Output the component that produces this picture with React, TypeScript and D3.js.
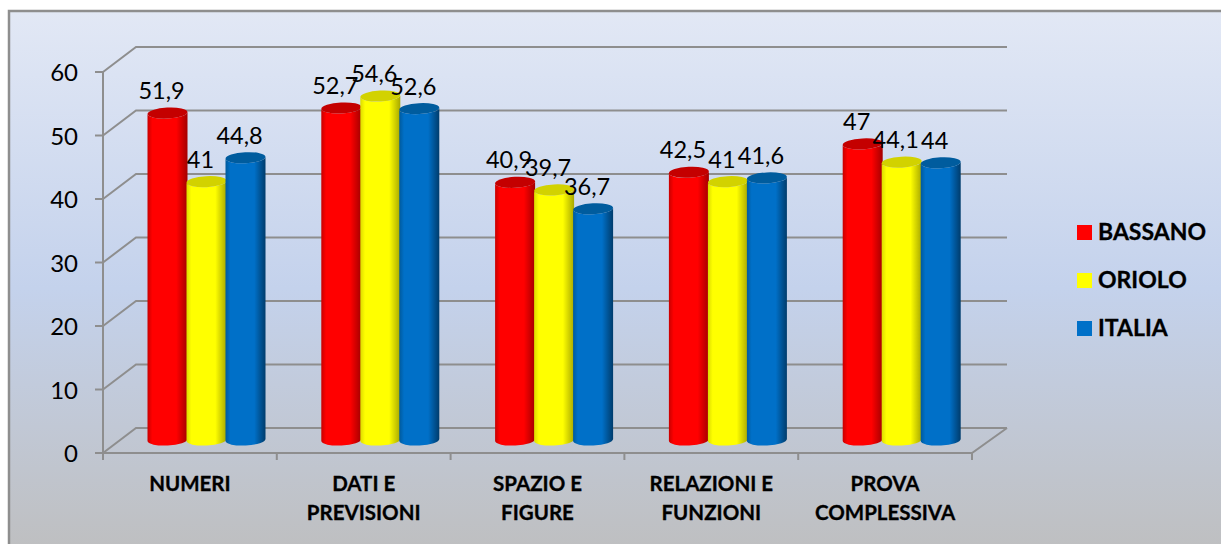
import React from "react";
import * as d3 from "d3";

const categories = [["NUMERI"], ["DATI E", "PREVISIONI"], ["SPAZIO E", "FIGURE"], ["RELAZIONI E", "FUNZIONI"], ["PROVA", "COMPLESSIVA"]];
const categoryKeys = categories.map((c) => c.join(" "));
const seriesNames = ["BASSANO", "ORIOLO", "ITALIA"];
const bassano = [51.9, 52.7, 40.9, 42.5, 47];
const oriolo = [41, 54.6, 39.7, 41, 44.1];
const italia = [44.8, 52.6, 36.7, 41.6, 44];
const seriesValues = [bassano, oriolo, italia];
const yTicks = [0, 10, 20, 30, 40, 50, 60];
const colors = ["#ff0000", "#ffff00", "#0070c8"];
const edgeDark = ["#a40000", "#a8a800", "#003c6c"];
const edgeLeft = ["#c80000", "#dcdc00", "#005a9c"];
const capColors = ["#c40000", "#d2d200", "#005c9e"];

const FONT = "Lato, Carlito, sans-serif";
const GRID = "#8e8e8e";
const W = 1221, H = 544;
const DX = 33, DY = -25;

const yFront = d3.scaleLinear().domain([0, 60]).range([453, 72]);
const yBar = d3.scaleLinear().domain([0, 60]).range([440, 62]);
const x0 = d3.scaleBand<string>().domain(categoryKeys).range([103, 972]);
const x1 = d3.scaleBand<string>().domain(seriesNames).range([45, 162]);

function fmt(v: number) {
  return String(v).replace(".", ",");
}

function Cylinder({ cat, ser, value, idx }: { cat: string; ser: string; value: number; idx: number }) {
  const x = (x0(cat) ?? 0) + (x1(ser) ?? 0) - 0.5;
  const w = x1.bandwidth() + 1;
  const cx = x + w / 2;
  const rx = w / 2;
  const ry = 5.5;
  const tilt = 3;
  const s = rx * Math.sin((tilt * Math.PI) / 180);
  const top = yBar(value);
  const base = yBar(0);
  const lx = cx - rx, rxx = cx + rx;
  const body = `M${lx},${top + s}L${lx},${base + s}A${rx},${ry} ${-tilt} 0 0 ${rxx},${base - s}L${rxx},${top - s}A${rx},${ry} ${-tilt} 0 1 ${lx},${top + s}Z`;
  return (
    <g>
      <path d={body} fill={`url(#cyl${idx})`} />
      <ellipse cx={cx} cy={top} rx={rx} ry={ry} fill={capColors[idx]} transform={`rotate(${-tilt} ${cx} ${top})`} />
    </g>
  );
}

export default function App() {
  const xEdges = [...categoryKeys.map((c) => x0(c) ?? 0), 972];
  return (
    <svg width={W} height={H} style={{ position: "fixed", left: 0, top: 0, display: "block", background: "#fff" }}>
      <defs>
        <linearGradient id="bg" x1="0" y1="0" x2="0" y2="1">
          <stop offset="0" stopColor="#e2e8f5" />
          <stop offset="0.5" stopColor="#c4d2ec" />
          <stop offset="1" stopColor="#bebebe" />
        </linearGradient>
        {colors.map((c, i) => (
          <linearGradient key={c} id={`cyl${i}`} x1="0" y1="0" x2="1" y2="0">
            <stop offset="0" stopColor={edgeLeft[i]} />
            <stop offset="0.12" stopColor={c} />
            <stop offset="0.72" stopColor={c} />
            <stop offset="1" stopColor={edgeDark[i]} />
          </linearGradient>
        ))}
      </defs>
      <rect x={9} y={11} width={W + 10} height={H + 10} fill="url(#bg)" stroke={GRID} strokeWidth={2.5} />

      {yTicks.map((v) => {
        const y = yFront(v);
        return (
          <g key={v}>
            <path d={`M103,${y}L${103 + DX},${y + DY}L1007,${y + DY}`} fill="none" stroke={GRID} strokeWidth={2} />
            <line x1={95} x2={103} y1={y} y2={y} stroke={GRID} strokeWidth={2} />
            <text x={78} y={y + 9} textAnchor="end" fontFamily={FONT} fontSize={24} fill="#000">
              {v}
            </text>
          </g>
        );
      })}
      <line x1={103} x2={103} y1={yFront(60)} y2={460} stroke={GRID} strokeWidth={2} />
      <path d={`M103,453L972,453L1007,428`} fill="none" stroke={GRID} strokeWidth={2} />
      {xEdges.map((x) => (
        <line key={x} x1={x} x2={x} y1={453} y2={460} stroke={GRID} strokeWidth={2} />
      ))}

      {categoryKeys.map((cat, ci) =>
        seriesNames.map((ser, si) => (
          <Cylinder key={cat + ser} cat={cat} ser={ser} value={seriesValues[si][ci]} idx={si} />
        ))
      )}

      {categoryKeys.map((cat, ci) =>
        seriesNames.map((ser, si) => {
          const v = seriesValues[si][ci];
          const x = (x0(cat) ?? 0) + (x1(ser) ?? 0) + x1.bandwidth() / 2 - 6;
          return (
            <text key={cat + ser} x={x} y={yBar(v) - 14} textAnchor="middle" fontFamily={FONT} fontSize={23.5} fill="#000">
              {fmt(v)}
            </text>
          );
        })
      )}

      {categories.map((lines, ci) => {
        const cx = (x0(categoryKeys[ci]) ?? 0) + x0.bandwidth() / 2;
        return (
          <text key={ci} textAnchor="middle" fontFamily={FONT} fontWeight={700} fontSize={20.5} fill="#000" stroke="#000" strokeWidth={0.3}>
            {lines.map((l, li) => (
              <tspan key={l} x={cx} y={491 + li * 29}>
                {l}
              </tspan>
            ))}
          </text>
        );
      })}

      {seriesNames.map((s, i) => (
        <g key={s}>
          <rect x={1077} y={225 + i * 48} width={15} height={15} fill={colors[i]} />
          <text x={1098} y={240 + i * 48} fontFamily={FONT} fontWeight={700} fontSize={23} fill="#000" stroke="#000" strokeWidth={0.3}>
            {s}
          </text>
        </g>
      ))}
    </svg>
  );
}
